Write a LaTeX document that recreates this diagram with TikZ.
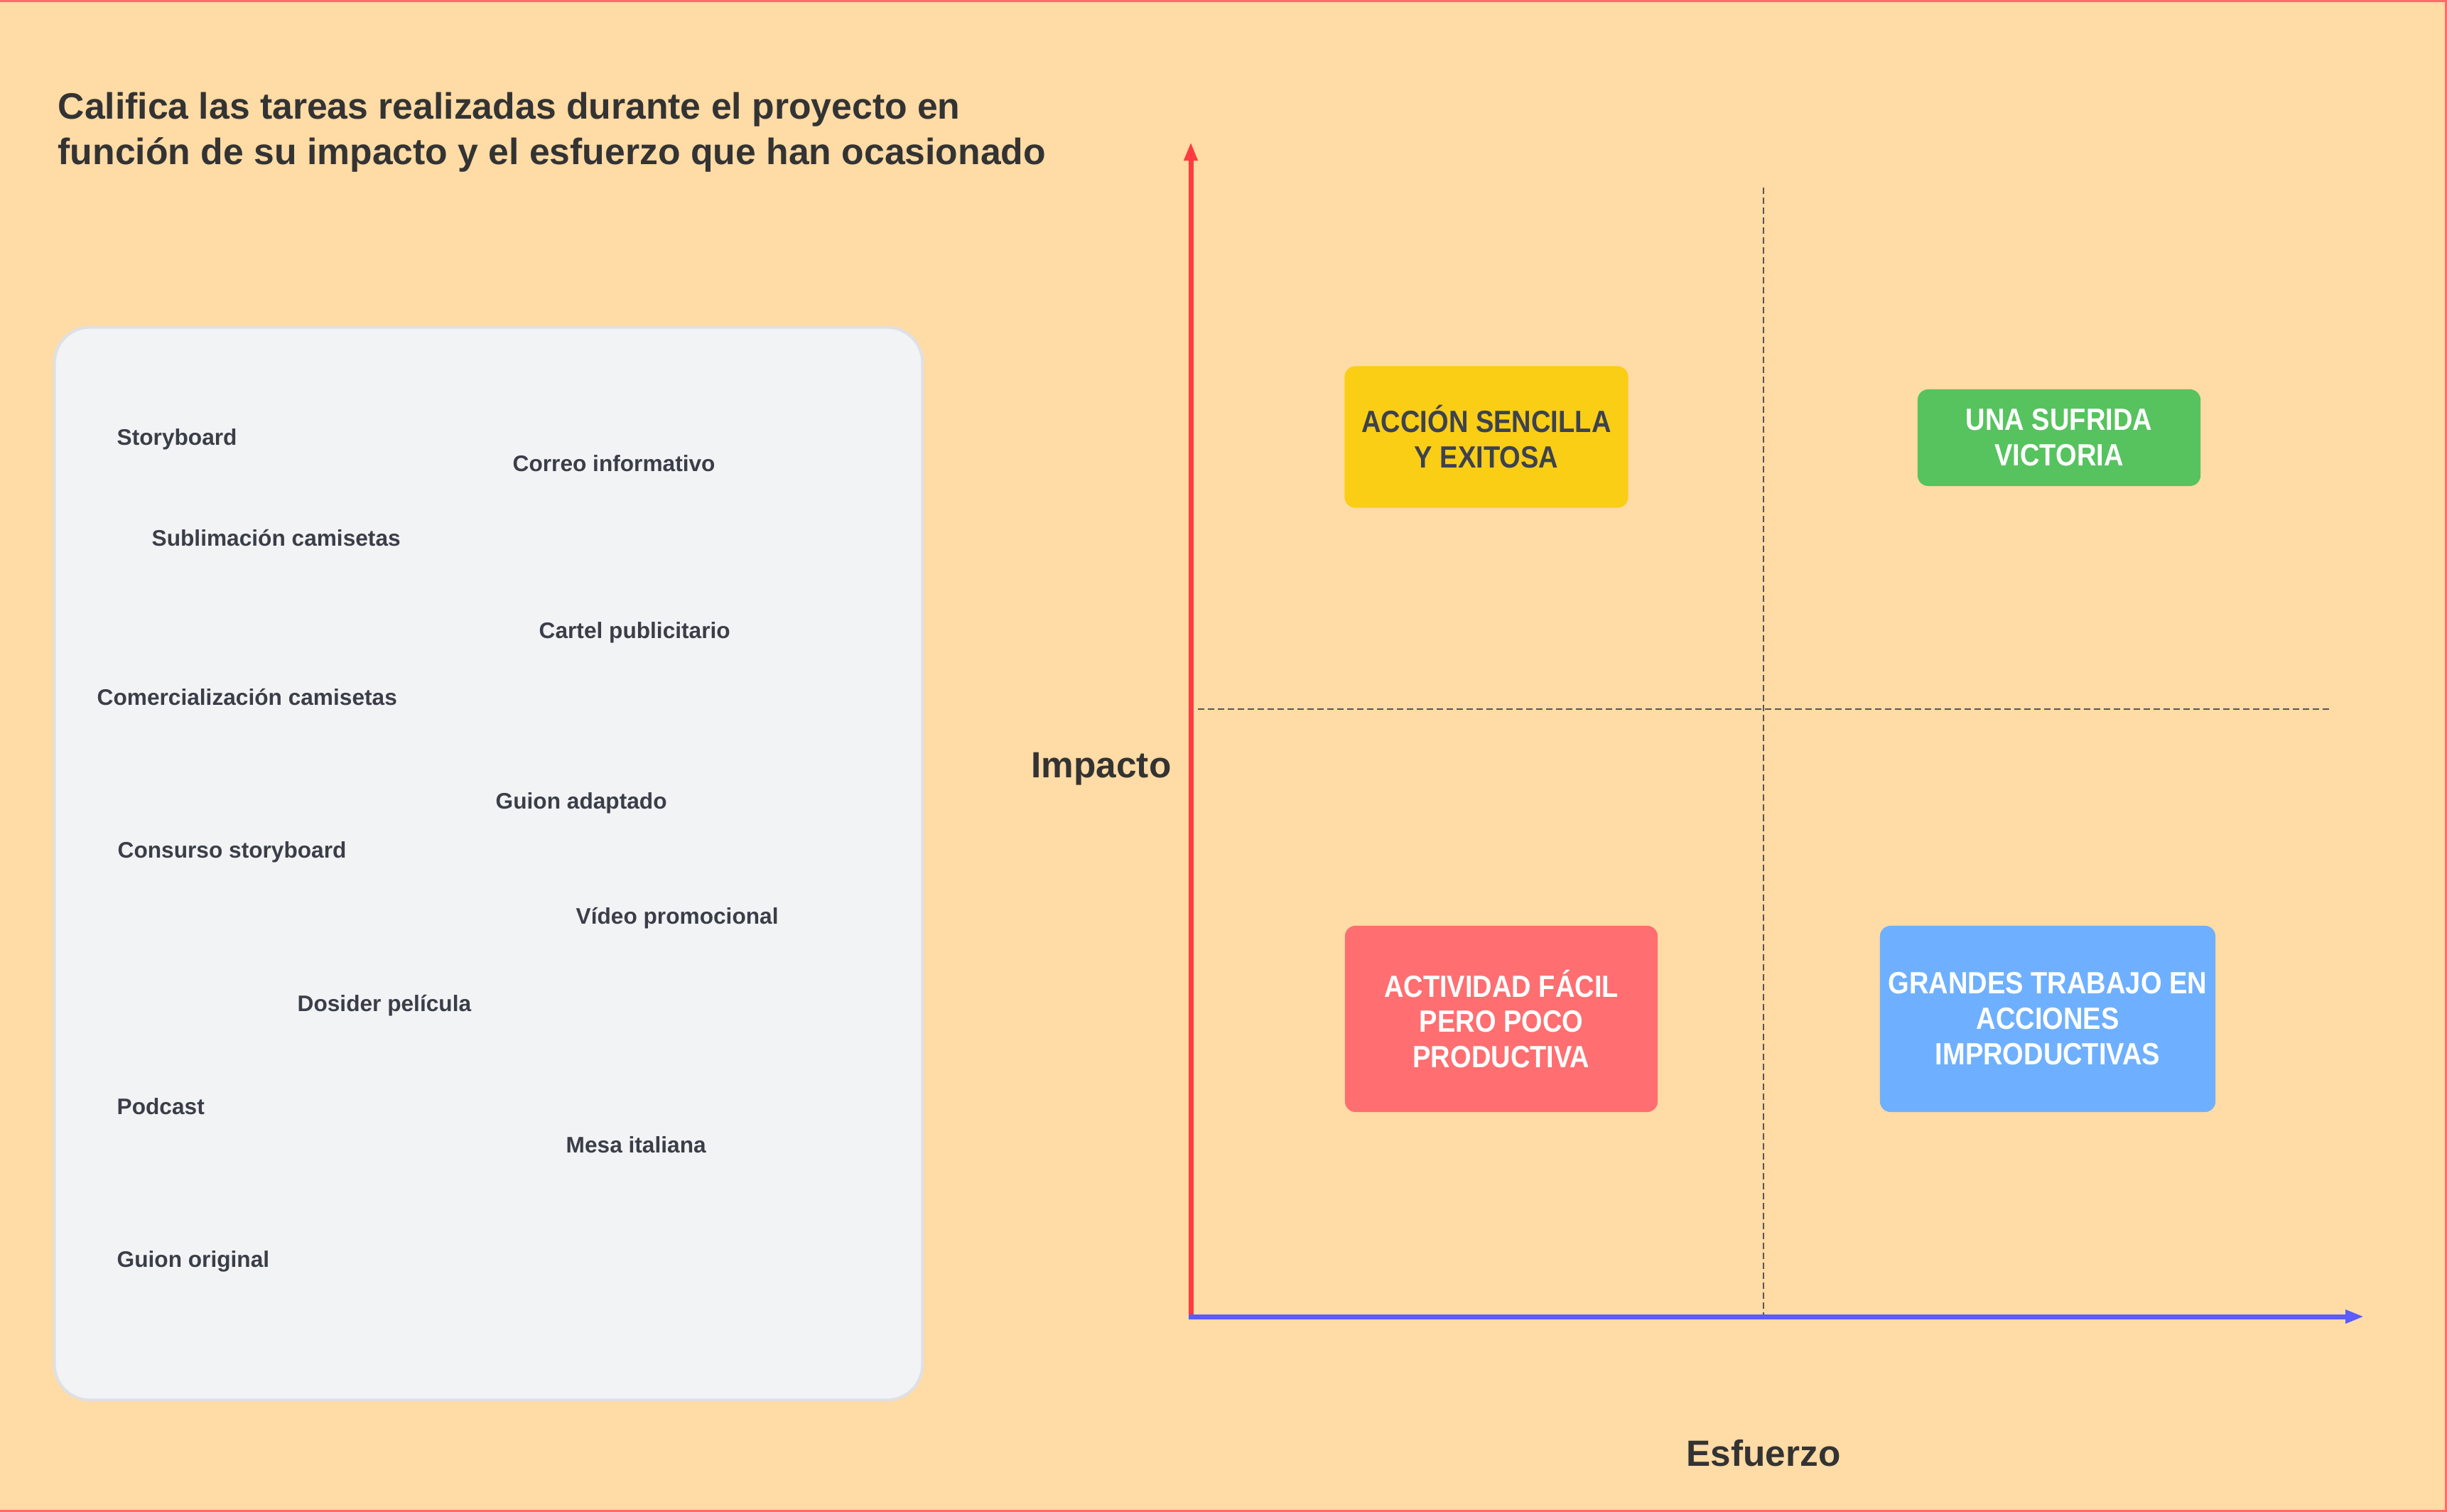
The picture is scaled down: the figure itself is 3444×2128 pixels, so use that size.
\documentclass[tikz,border=0pt]{standalone}
\usepackage{fontspec}
\setmainfont{Liberation Sans}
\newfontfamily\capsfont[FakeStretch=0.88]{Liberation Sans}
\usetikzlibrary{positioning,arrows.meta}
\definecolor{paper}{HTML}{FFDBA5}
\definecolor{frame}{HTML}{FF6B6B}
\definecolor{panel}{HTML}{F2F3F5}
\definecolor{panelline}{HTML}{DFE0E3}
\definecolor{ink}{HTML}{333333}
\definecolor{taskink}{HTML}{3A3E48}
\definecolor{quadink}{HTML}{3D4150}
\definecolor{axisred}{HTML}{FF3B40}
\definecolor{axisblue}{HTML}{5B5BFF}
\definecolor{dashgray}{HTML}{555555}
\definecolor{easy}{HTML}{F9CE15}
\definecolor{win}{HTML}{56C35E}
\definecolor{lazy}{HTML}{FF6E70}
\definecolor{hard}{HTML}{6EB0FF}

\begin{document}
\begin{tikzpicture}[x=0.01cm, y=-0.01cm,
    heading/.style={anchor=base west, inner sep=0pt, text=ink, font=\bfseries\fontsize{14.7}{17.6}\selectfont},
    axislabel/.style={anchor=base, inner sep=0pt, text=ink, font=\bfseries\fontsize{14.6}{17.6}\selectfont},
    task/.style={anchor=base west, inner sep=0pt, text=taskink, font=\bfseries\fontsize{9}{11}\selectfont},
    quad/.style={rounded corners=0.15cm, inner sep=0pt, align=center, font=\capsfont\bfseries\fontsize{12.3}{14.2}\selectfont},
    guide/.style={dashgray, line width=0.025cm, dash pattern=on 0.09cm off 0.05cm}]

\useasboundingbox (0,0) rectangle (3444,2128);
\fill[paper] (0,0) rectangle (3444,2128);
\draw[frame, line width=0.03cm] (0,1.5) -- (3442.5,1.5) -- (3442.5,2126.5) -- (0,2126.5);

\node[heading] (title1) at (81,168) {Califica las tareas realizadas durante el proyecto en};
\node[heading] (title2) at ([yshift=-0.63cm]title1.base west) {función de su impacto y el esfuerzo que han ocasionado};

\node[draw=panelline, fill=panel, line width=0.04cm, rounded corners=0.5cm,
      minimum width=12.21cm, minimum height=15.09cm] (tasks) at (687.5,1215.5) {};

\node[task] (storyboard) at (164,627) {Storyboard};
\node[task] (correo) at (721,664) {Correo informativo};
\node[task] (sublimacion) at (213,769) {Sublimación camisetas};
\node[task] (cartel) at (758,899) {Cartel publicitario};
\node[task] (comercial) at (136,993) {Comercialización camisetas};
\node[task] (adaptado) at (697,1138) {Guion adaptado};
\node[task] (concurso) at (165,1208) {Consurso storyboard};
\node[task] (video) at (810,1300) {Vídeo promocional};
\node[task] (dosier) at (418,1423) {Dosider película};
\node[task] (podcast) at (164,1568) {Podcast};
\node[task] (mesa) at (796,1622) {Mesa italiana};
\node[task] (original) at (164,1783) {Guion original};

\coordinate (origin) at (1676,1853);
\coordinate (ytop) at (1676,200);
\coordinate (xstart) at (1673,1853);
\coordinate (xend) at (3327,1853);
\coordinate (vtop) at (2482,264);
\coordinate (vbot) at (2482,1853);
\coordinate (hleft) at (1686,998);
\coordinate (hright) at (3279,998);

\draw[guide] (vtop) -- (vbot);
\draw[guide] (hleft) -- (hright);
\draw[axisred, line width=0.07cm, -{Triangle[length=0.26cm, width=0.18cm]}] (origin) -- (ytop);
\draw[axisblue, line width=0.07cm, -{Triangle[length=0.26cm, width=0.18cm]}] (xstart) -- (xend);

\node[axislabel] (impacto) at (1550,1095) {Impacto};
\node[axislabel] (esfuerzo) at (2482,2063) {Esfuerzo};

\node[quad, fill=easy, text=quadink, minimum width=3.99cm, minimum height=1.99cm] (sencilla) at (2092,615) {ACCIÓN SENCILLA\\Y EXITOSA};
\node[quad, fill=win, text=white, minimum width=3.98cm, minimum height=1.36cm] (victoria) at (2898,616) {UNA SUFRIDA\\VICTORIA};
\node[quad, fill=lazy, text=white, minimum width=4.40cm, minimum height=2.62cm] (facil) at (2113,1434) {ACTIVIDAD FÁCIL\\PERO POCO\\PRODUCTIVA};
\node[quad, fill=hard, text=white, minimum width=4.72cm, minimum height=2.62cm] (grandes) at (2882,1434) {GRANDES TRABAJO EN\\ACCIONES\\IMPRODUCTIVAS};
\end{tikzpicture}
\end{document}
